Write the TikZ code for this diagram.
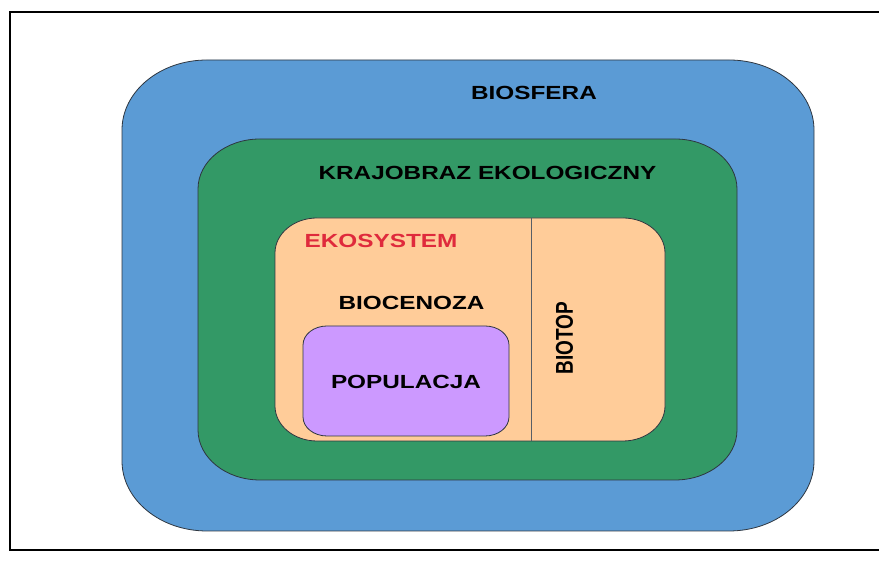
\documentclass[tikz,border=0pt]{standalone}
\usepackage{fontspec}
\setmainfont{Liberation Sans}
\usepackage{graphicx}
\definecolor{bluef}{HTML}{5B9BD5}
\definecolor{greenf}{HTML}{339966}
\definecolor{orangef}{HTML}{FFCC99}
\definecolor{purplef}{HTML}{CC99FF}
\definecolor{redt}{HTML}{DF2A3C}
\definecolor{edge}{HTML}{2E3640}
\newcommand{\rrect}[6]{({#1+#5},{#2}) -- ({#3-#5},{#2}) arc[start angle=-90,end angle=0,x radius=#5pt,y radius=#6pt] -- ({#3},{#4-#6}) arc[start angle=0,end angle=90,x radius=#5pt,y radius=#6pt] -- ({#1+#5},{#4}) arc[start angle=90,end angle=180,x radius=#5pt,y radius=#6pt] -- ({#1},{#2+#6}) arc[start angle=180,end angle=270,x radius=#5pt,y radius=#6pt] -- cycle}
\newcommand{\wide}[1]{\scalebox{1.28}[1]{#1}}
\tikzset{
  boxline/.style={draw=edge, line width=0.8pt},
  lbl/.style={inner sep=0pt, font=\fontsize{19}{21}\selectfont\bfseries, text=black},
}
\begin{document}
\begin{tikzpicture}[x=1pt,y=1pt]
\useasboundingbox (0,0) rectangle (879,561);
\draw[line width=2.4pt] (879,549) -- (10,549) -- (10,11) -- (879,11);
% containers
\path[boxline, fill=bluef] \rrect{122}{30}{814}{501}{85}{70};
\path[boxline, fill=greenf] \rrect{198}{81}{737}{422}{62}{50};
\path[boxline, fill=orangef] \rrect{275}{120}{665}{343}{42}{35};
\coordinate (divtop) at (531.5,343);
\coordinate (divbot) at (531.5,120);
\draw[draw=edge!80, line width=1pt] (divtop) -- (divbot);
\path[boxline, fill=purplef] \rrect{303}{125}{509}{235}{24}{19};
% labels
\node[lbl] (biosfera) at (534,468) {\wide{BIOSFERA}};
\node[lbl] (krajobraz) at (487.5,388.5) {\wide{KRAJOBRAZ EKOLOGICZNY}};
\node[lbl, text=redt] (ekosystem) at (381,320.5) {\wide{EKOSYSTEM}};
\node[lbl] (biocenoza) at (411.5,258) {\wide{BIOCENOZA}};
\node[lbl] (populacja) at (406,179.5) {\wide{POPULACJA}};
\node[lbl] (biotop) at (564.5,223) {\wide{\rotatebox{90}{BIOTOP}}};
\end{tikzpicture}
\end{document}
